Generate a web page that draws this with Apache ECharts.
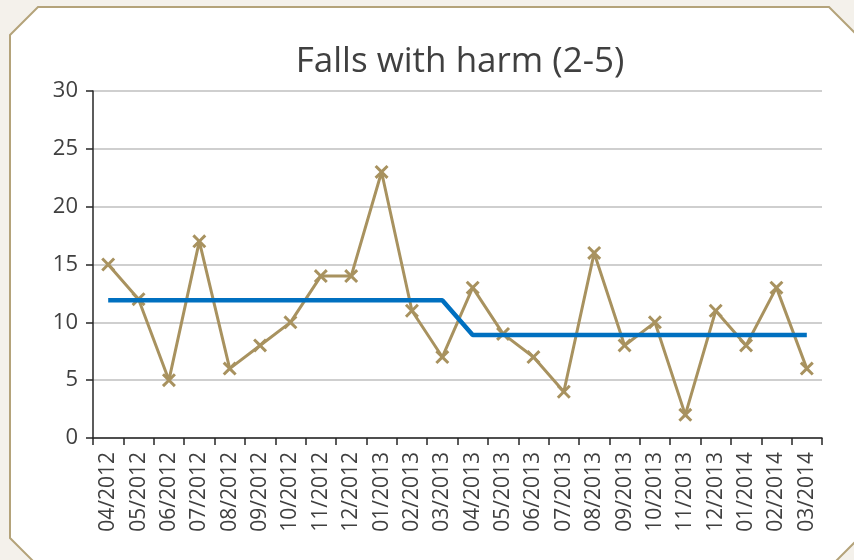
<!DOCTYPE html>
<html>
<head>
<meta charset="UTF-8">
<title>Falls with harm</title>
<script src="https://cdn.jsdelivr.net/npm/echarts@6/dist/echarts.min.js"></script>
<style>
  html, body { margin: 0; padding: 0; background: #f4f1eb; }
  #main { width: 854px; height: 560px; }
</style>
</head>
<body>
<div id="main"></div>
<script>
// months shown on the x axis
var months = ['04/2012','05/2012','06/2012','07/2012','08/2012','09/2012','10/2012','11/2012','12/2012',
              '01/2013','02/2013','03/2013','04/2013','05/2013','06/2013','07/2013','08/2013','09/2013',
              '10/2013','11/2013','12/2013','01/2014','02/2014','03/2014'];
// monthly count of falls with harm
var falls = [15, 12, 5, 17, 6, 8, 10, 14, 14, 23, 11, 7,
             13, 9, 7, 4, 16, 8, 10, 2, 11, 8, 13, 6];
// mean for each year
var mean = [11.9, 11.9, 11.9, 11.9, 11.9, 11.9, 11.9, 11.9, 11.9, 11.9, 11.9, 11.9,
            8.9, 8.9, 8.9, 8.9, 8.9, 8.9, 8.9, 8.9, 8.9, 8.9, 8.9, 8.9];
var yTicks = [0, 5, 10, 15, 20, 25, 30];

var textColor = '#404040';
var font = '"Open Sans", "Noto Sans", sans-serif';
// x shaped marker
var cross = 'path://M0,1.5L1.5,0L5,3.5L8.5,0L10,1.5L6.5,5L10,8.5L8.5,10L5,6.5L1.5,10L0,8.5L3.5,5Z';

var chart = echarts.init(document.getElementById('main'));

var option = {
    backgroundColor: '#f4f1eb',
    animation: false,
    graphic: [{
        type: 'polygon',
        z: -10,
        shape: {
            points: [[10,35],[38,7],[829,7],[880,58],[880,517],[817,580],[52,580],[10,538]]
        },
        style: { fill: '#ffffff', stroke: '#b4a37a', lineWidth: 2 }
    }],
    title: {
        text: 'Falls with harm (2-5)',
        left: 455,
        textAlign: 'center',
        top: 40,
        textStyle: { color: textColor, fontFamily: font, fontSize: 35, fontWeight: 'normal' }
    },
    grid: { left: 93, right: 32, top: 91, bottom: 122 },
    xAxis: {
        type: 'category',
        data: months,
        boundaryGap: true,
        axisLine: { lineStyle: { color: '#262626', width: 1.5 } },
        axisTick: { show: true, length: 7, interval: 0, lineStyle: { color: '#262626', width: 1.5 } },
        axisLabel: {
            interval: 0, rotate: 90, margin: 14,
            color: textColor, fontFamily: font, fontSize: 21
        },
        splitLine: { show: false }
    },
    yAxis: {
        type: 'value',
        min: yTicks[0],
        max: yTicks[yTicks.length - 1],
        interval: 5,
        axisLine: { show: true, lineStyle: { color: '#262626', width: 1.5 } },
        axisTick: { show: true, length: 7, lineStyle: { color: '#262626', width: 1.5 } },
        axisLabel: { margin: 15, color: textColor, fontFamily: font, fontSize: 22 },
        splitLine: { lineStyle: { color: '#bfbfbf', width: 1.5 } }
    },
    series: [
        {
            name: 'Falls',
            type: 'line',
            data: falls,
            symbol: cross,
            symbolSize: 14,
            itemStyle: { color: '#a8925f' },
            lineStyle: { color: '#a8925f', width: 3 },
            z: 2
        },
        {
            name: 'Mean',
            type: 'line',
            data: mean,
            symbol: 'none',
            lineStyle: { color: '#0070c0', width: 4.5 },
            z: 3
        }
    ]
};

chart.setOption(option);
</script>
</body>
</html>
